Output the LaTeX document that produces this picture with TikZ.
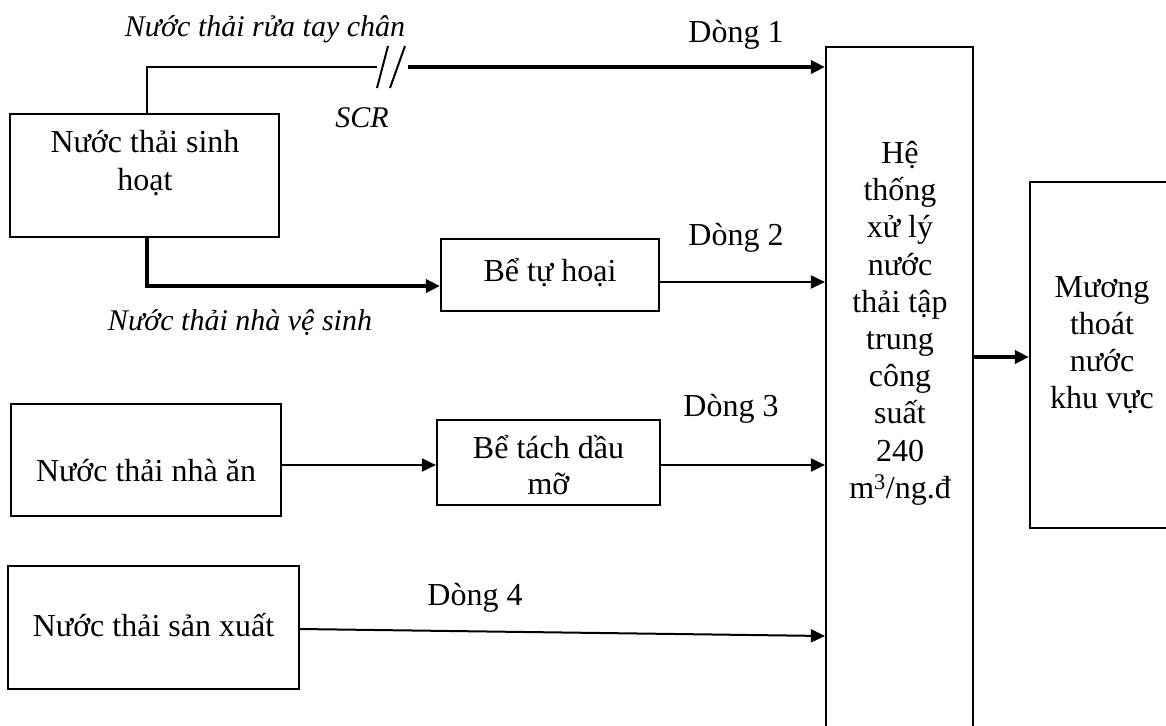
\documentclass[tikz,border=0pt]{standalone}
\usepackage{fontspec}
\setmainfont{Liberation Serif}
\usetikzlibrary{arrows.meta,calc}
\begin{document}
\begin{tikzpicture}[x=1pt,y=-1pt,
  box/.style={draw,line width=2.2pt,rectangle,inner sep=0pt},
  lbl/.style={font=\fontsize{32}{37.2}\selectfont,align=center,inner sep=0pt,anchor=base},
  flow/.style={font=\fontsize{32}{36}\selectfont,inner sep=0pt,anchor=base},
  ilbl/.style={font=\fontsize{30}{34}\selectfont\itshape,inner sep=0pt,anchor=base},
  thinline/.style={line width=2pt},
  thickline/.style={line width=4pt},
  arr/.style={-{Triangle[length=14pt,width=13pt]}}
]
\useasboundingbox (0,0) rectangle (1166,725);

% boxes
\node[box,minimum width=269pt,minimum height=123pt] (sh) at (144.5,175.5) {};
\node[box,minimum width=218pt,minimum height=72pt] (th) at (550,275) {};
\node[box,minimum width=270pt,minimum height=112pt] (na) at (146,460) {};
\node[box,minimum width=223pt,minimum height=85pt] (td) at (548.5,462.5) {};
\node[box,minimum width=291pt,minimum height=123pt] (sx) at (153.5,627.5) {};
\node[box,minimum width=147pt,minimum height=700pt] (ht) at (899.5,397) {};
\node[box,minimum width=150pt,minimum height=346pt] (mg) at (1105,355) {};

% box texts
\node[lbl] (tsh1) at (145,152) {Nước thải sinh};
\node[lbl] (tsh2) at (145,190) {hoạt};
\node[lbl] (tth) at (550,281) {Bể tự hoại};
\node[lbl] (tna) at (146,481) {Nước thải nhà ăn};
\node[lbl] (ttd1) at (548.5,458) {Bể tách dầu};
\node[lbl] (ttd2) at (548.5,494) {mỡ};
\node[lbl] (tsx) at (153.5,636) {Nước thải sản xuất};
\node[lbl,anchor=north] (tht) at (900,141) {Hệ\\thống\\xử lý\\nước\\thải tập\\trung\\công\\suất\\240\\m\textsuperscript{3}/ng.đ};
\node[lbl,anchor=north] (tmg) at (1102,276) {Mương\\thoát\\nước\\khu vực};

% flow labels
\node[flow] (d1) at (736,42) {Dòng 1};
\node[flow] (d2) at (736,245) {Dòng 2};
\node[flow] (d3) at (731,416) {Dòng 3};
\node[flow] (d4) at (475,605) {Dòng 4};

% italic labels
\node[ilbl] (lrt) at (265,37) {Nước thải rửa tay chân};
\node[ilbl] (lvs) at (240,330) {Nước thải nhà vệ sinh};
\node[ilbl] (scr) at (362,127) {SCR};

% connectors
\coordinate (b1) at (377,67);
\coordinate (b2) at (408,67);
\draw[thinline] (sh.north -| 147,0) |- (b1);
\draw[thinline] (377,88) -- (388,46);
\draw[thinline] (390,88) -- (405,46);
\draw[thickline,arr] (b2) -- (ht.west |- b2);
\draw[thickline,arr] (sh.south -| 147,0) |- (th.west |- 0,286);
\draw[thinline,arr] (th.east |- 0,282) -- (ht.west |- 0,282);
\draw[thinline,arr] (na.east |- 0,465) -- (td.west |- 0,465);
\draw[thinline,arr] (td.east |- 0,465) -- (ht.west |- 0,465);
\draw[thinline,arr] (sx.east |- 0,629) -- (ht.west |- 0,636);
\draw[thickline,arr] (ht.east |- 0,357) -- (mg.west |- 0,357);
\end{tikzpicture}
\end{document}
